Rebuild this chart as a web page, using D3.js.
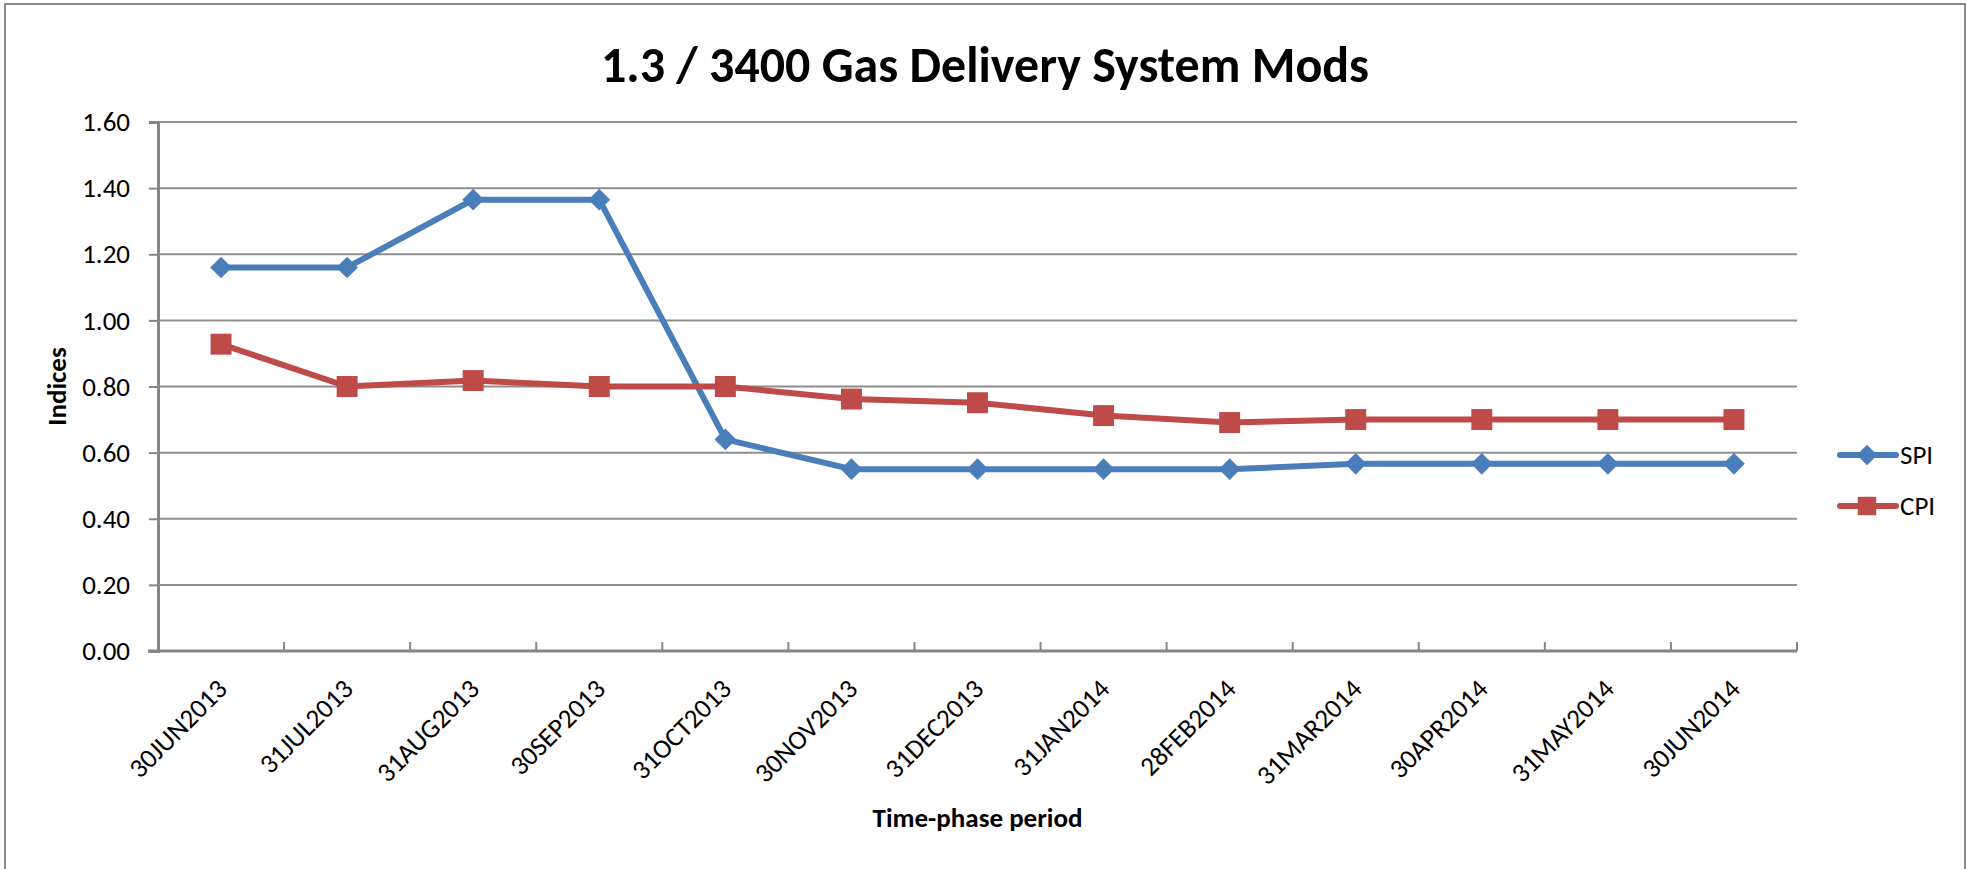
<!DOCTYPE html>
<html>
<head>
<meta charset="utf-8">
<script src="https://cdn.jsdelivr.net/npm/d3@7"></script>
<style>
body{margin:0;background:#fff;}
text{font-family:Carlito,Calibri,Lato,sans-serif;fill:#000;}
</style>
</head>
<body>
<svg id="chart"></svg>
<script>
var categories=['30JUN2013','31JUL2013','31AUG2013','30SEP2013','31OCT2013','30NOV2013','31DEC2013','31JAN2014','28FEB2014','31MAR2014','30APR2014','31MAY2014','30JUN2014'];
var spi=[1.16,1.16,1.365,1.365,0.64,0.55,0.55,0.55,0.55,0.566,0.566,0.566,0.566];
var cpi=[0.928,0.80,0.818,0.80,0.80,0.762,0.751,0.712,0.691,0.70,0.70,0.70,0.70];
var yTicks=[0,0.2,0.4,0.6,0.8,1.0,1.2,1.4,1.6];
var seriesNames=['SPI','CPI'];

var width=1973,height=869;
var svg=d3.select('#chart').attr('width',width).attr('height',height);

// chart area border
svg.append('rect')
    .attr('x',5).attr('y',4)
    .attr('width',1960).attr('height',900)
    .attr('fill','none').attr('stroke','#8a8a8a').attr('stroke-width',2);

var plotLeft=158,plotRight=1797,plotTop=122,plotBottom=651;

var x=d3.scaleBand().domain(categories).range([plotLeft,plotRight]).padding(0);
var y=d3.scaleLinear().domain([0,1.6]).range([plotBottom,plotTop]);
function cx(d){return x(d)+x.bandwidth()/2;}

// gridlines
svg.append('g').selectAll('line')
    .data(yTicks.slice(1))
    .enter().append('line')
    .attr('x1',plotLeft).attr('x2',plotRight)
    .attr('y1',function(d){return y(d);})
    .attr('y2',function(d){return y(d);})
    .attr('stroke','#8e8e8e').attr('stroke-width',2);

// y axis
var yAxis=svg.append('g')
    .attr('transform','translate('+plotLeft+',0)')
    .call(d3.axisLeft(y).tickValues(yTicks).tickFormat(d3.format('.2f')).tickSize(9).tickPadding(19));
yAxis.select('.domain').attr('stroke','#868686').attr('stroke-width',3);
yAxis.selectAll('.tick line').attr('stroke','#868686').attr('stroke-width',2);
yAxis.selectAll('.tick text')
    .style('font-family','Carlito,Calibri,Lato,sans-serif')
    .style('font-size','27px');

// x axis
var xAxis=svg.append('g')
    .attr('transform','translate(0,'+plotBottom+')');
xAxis.append('line')
    .attr('x1',plotLeft-10).attr('x2',plotRight)
    .attr('y1',0).attr('y2',0)
    .attr('stroke','#868686').attr('stroke-width',3);
var boundaries=categories.map(function(d){return x(d);}).concat([x.range()[1]]);
xAxis.selectAll('line.tk')
    .data(boundaries.slice(1))
    .enter().append('line')
    .attr('class','tk')
    .attr('x1',function(d){return d;}).attr('x2',function(d){return d;})
    .attr('y1',0).attr('y2',-9)
    .attr('stroke','#868686').attr('stroke-width',2);
xAxis.selectAll('text')
    .data(categories)
    .enter().append('text')
    .attr('transform',function(d){return 'translate('+(cx(d)+1)+',33) rotate(-45)';})
    .attr('text-anchor','end')
    .attr('dy','0.35em')
    .style('font-size','27px')
    .text(function(d){return d;});

// lines
var series=[
    {name:seriesNames[0],values:spi,color:'#4a7ebb'},
    {name:seriesNames[1],values:cpi,color:'#be4b48'}
];
var line=d3.line()
    .x(function(d,i){return cx(categories[i]);})
    .y(function(d){return y(d);});

series.forEach(function(s){
    svg.append('path')
        .datum(s.values)
        .attr('d',line)
        .attr('fill','none')
        .attr('stroke',s.color)
        .attr('stroke-width',6)
        .attr('stroke-linejoin','round');
});
series.forEach(function(s){
    var sym=s.name=='SPI'?d3.symbol().type(d3.symbolDiamond2).size(300):d3.symbol().type(d3.symbolSquare).size(440);
    svg.append('g').selectAll('path')
        .data(s.values)
        .enter().append('path')
        .attr('transform',function(d,i){return 'translate('+cx(categories[i])+','+y(d)+')';})
        .attr('d',sym)
        .attr('fill',s.color);
});

// legend
var legend=svg.append('g');
series.forEach(function(s,i){
    var ly=455+i*51;
    legend.append('line')
        .attr('x1',1840).attr('x2',1896)
        .attr('y1',ly).attr('y2',ly)
        .attr('stroke',s.color).attr('stroke-width',6)
        .attr('stroke-linecap','round');
    var sym=s.name=='SPI'?d3.symbol().type(d3.symbolDiamond2).size(270):d3.symbol().type(d3.symbolSquare).size(340);
    legend.append('path')
        .attr('transform','translate(1867,'+ly+')')
        .attr('d',sym)
        .attr('fill',s.color);
    legend.append('text')
        .attr('x',1900).attr('y',ly)
        .attr('dy','0.35em')
        .style('font-size','27px')
        .text(s.name);
});

// titles
svg.append('text')
    .attr('x',985).attr('y',82)
    .attr('text-anchor','middle')
    .style('font-size','50px').style('font-weight','bold')
    .text('1.3 / 3400 Gas Delivery System Mods');

svg.append('text')
    .attr('x',(plotLeft+plotRight)/2).attr('y',827)
    .attr('text-anchor','middle')
    .style('font-size','27px').style('font-weight','bold')
    .text('Time-phase period');

svg.append('text')
    .attr('transform','translate(66,'+((plotTop+plotBottom)/2)+') rotate(-90)')
    .attr('text-anchor','middle')
    .style('font-size','27px').style('font-weight','bold')
    .text('Indices');
</script>
</body>
</html>
